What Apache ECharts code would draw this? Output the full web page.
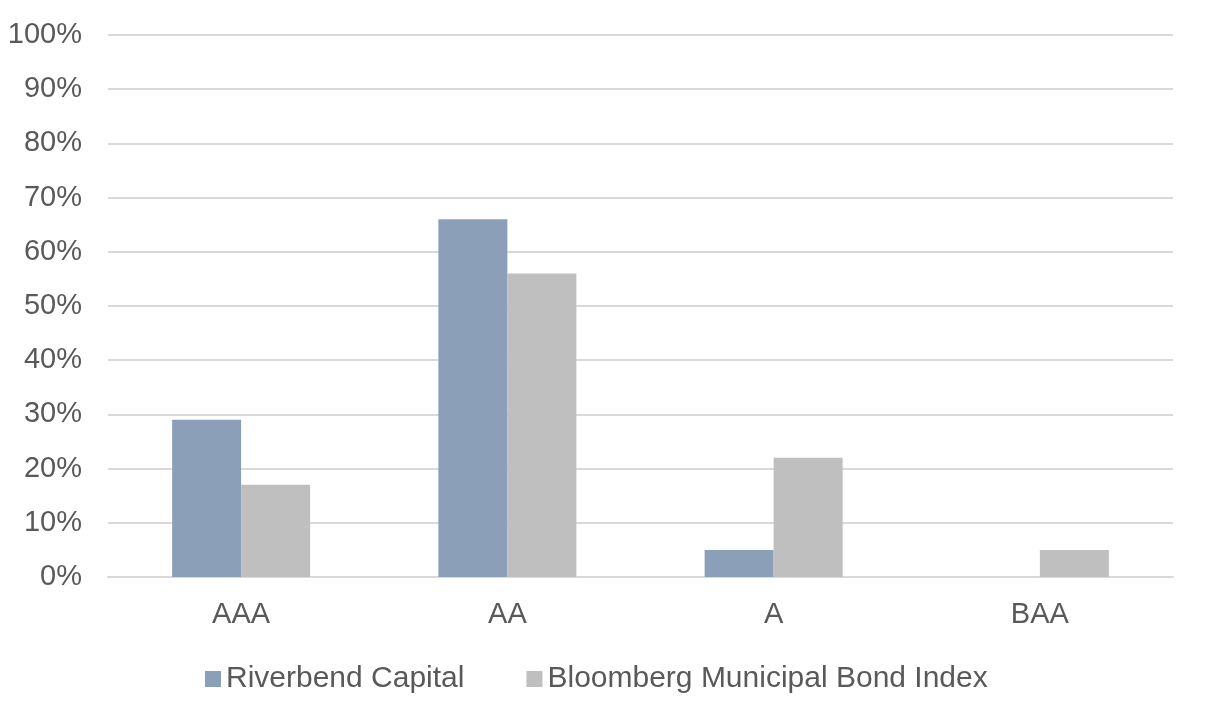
<!DOCTYPE html>
<html>
<head>
<meta charset="utf-8">
<script src="https://cdn.jsdelivr.net/npm/echarts@6/dist/echarts.min.js"></script>
<style>
  html, body { margin: 0; padding: 0; background: #ffffff; }
  #main { width: 1206px; height: 708px; }
</style>
</head>
<body>
<div id="main"></div>
<script>
// ratings buckets and the two series (percent)
var categories = ["AAA", "AA", "A", "BAA"];
var riverbend = [29, 66, 5, 0];
var bloomberg = [17, 56, 22, 5];
var seriesNames = ["Riverbend Capital", "Bloomberg Municipal Bond Index"];

var myChart = echarts.init(document.getElementById("main"));
var textColor = "#595959";
var font = "'Liberation Sans', Arial, sans-serif";

var option = {
  animation: false,
  backgroundColor: "#ffffff",
  textStyle: { fontFamily: font },
  grid: {
    left: 108,
    right: 33,
    top: 35,
    bottom: 131,
  },
  legend: {
    bottom: 14,
    left: 205,
    padding: 0,
    itemWidth: 16,
    itemHeight: 16,
    itemGap: 62,
    icon: "rect",
    textStyle: {
      color: textColor,
      fontSize: 30,
      fontFamily: font,
    },
    data: seriesNames,
  },
  xAxis: {
    type: "category",
    data: categories,
    axisTick: { show: false },
    axisLine: {
      show: true,
      lineStyle: { color: "#D9D9D9", width: 2 },
    },
    axisLabel: {
      color: textColor,
      fontSize: 29,
      margin: 23,
    },
  },
  yAxis: {
    type: "value",
    min: 0,
    max: 100,
    interval: 10,
    axisLine: { show: false },
    axisTick: { show: false },
    axisLabel: {
      color: textColor,
      fontSize: 29,
      margin: 26,
      formatter: "{value}%",
    },
    splitLine: {
      lineStyle: { color: "#D9D9D9", width: 2 },
    },
  },
  series: [
    {
      name: seriesNames[0],
      type: "bar",
      data: riverbend,
      barWidth: 69,
      barGap: "0%",
      itemStyle: { color: "#8C9FB8" },
    },
    {
      name: seriesNames[1],
      type: "bar",
      data: bloomberg,
      barWidth: 69,
      barGap: "0%",
      itemStyle: { color: "#BFBFBF" },
    },
  ],
};

myChart.setOption(option);
</script>
</body>
</html>
